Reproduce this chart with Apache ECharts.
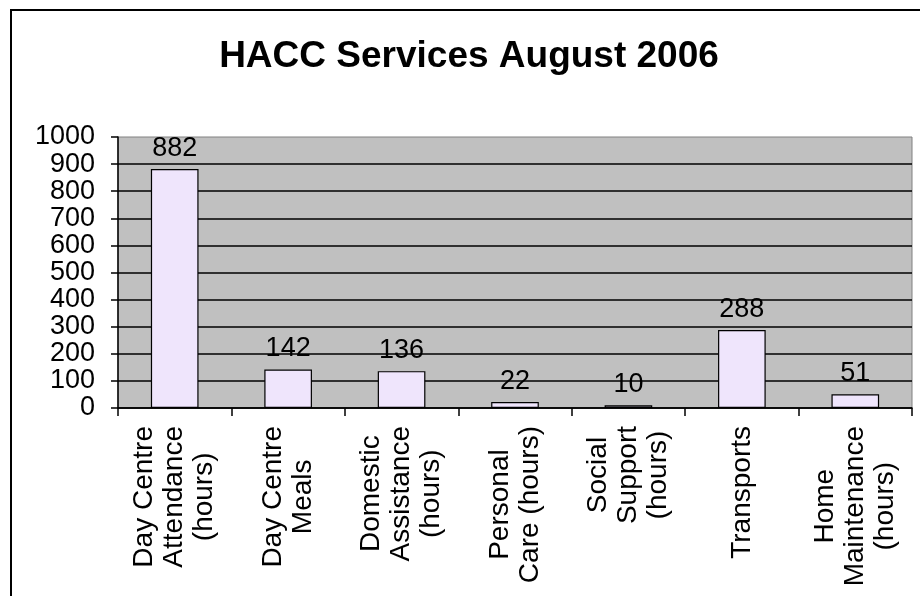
<!DOCTYPE html>
<html>
<head>
<meta charset="utf-8">
<script src="https://cdn.jsdelivr.net/npm/echarts@6/dist/echarts.min.js"></script>
<style>
  html, body { margin: 0; padding: 0; background: #fff; }
  #chart { width: 920px; height: 596px; }
</style>
</head>
<body>
<div id="chart"></div>
<script>
// HACC service totals for August 2006
const categories = [
  'Day Centre\nAttendance\n(hours)',
  'Day Centre\nMeals',
  'Domestic\nAssistance\n(hours)',
  'Personal\nCare (hours)',
  'Social\nSupport\n(hours)',
  'Transports',
  'Home\nMaintenance\n(hours)'
];
const serviceValues = [882, 142, 136, 22, 10, 288, 51];
const yTicks = { min: 0, max: 1000, step: 100 };
const chartTitle = 'HACC Services August 2006';

const FONT = "Arial, 'Liberation Sans', sans-serif";

const chart = echarts.init(document.getElementById('chart'), null, { renderer: 'canvas' });

chart.setOption({
  animation: false,
  backgroundColor: '#ffffff',
  title: {
    text: chartTitle,
    left: 464,
    top: 33,
    textAlign: 'center',
    textStyle: { fontFamily: FONT, fontSize: 37, fontWeight: 'bold', color: '#000' }
  },
  graphic: [{
    type: 'rect',
    shape: { x: 11, y: 10, width: 1000, height: 1000 },
    style: { fill: 'none', stroke: '#000', lineWidth: 2 },
    z: 100
  }],
  grid: {
    left: 118, top: 137, right: 8, bottom: 188,
    show: true,
    backgroundColor: '#C0C0C0',
    borderColor: '#808080',
    borderWidth: 1
  },
  xAxis: {
    type: 'category',
    data: categories,
    axisLine: { lineStyle: { color: '#000', width: 1.5 } },
    axisTick: { show: true, length: 8, lineStyle: { color: '#000', width: 1.5 } },
    axisLabel: {
      rotate: 90,
      margin: 18,
      interval: 0,
      fontFamily: FONT,
      fontSize: 28,
      lineHeight: 30,
      color: '#000',
      formatter: function (v) {
        return v.split('\n').map(function (s) { return '{c|' + s + '}'; }).join('\n');
      },
      rich: {
        c: { align: 'center', fontFamily: FONT, fontSize: 28, lineHeight: 30, color: '#000' }
      }
    }
  },
  yAxis: {
    type: 'value',
    min: yTicks.min,
    max: yTicks.max,
    interval: yTicks.step,
    axisLine: { show: true, lineStyle: { color: '#000', width: 1.5 } },
    axisTick: { show: true, length: 7, lineStyle: { color: '#000', width: 1.5 } },
    axisLabel: {
      margin: 23,
      fontFamily: FONT,
      fontSize: 27,
      color: '#000',
      formatter: function (v) { return String(v); }
    },
    splitLine: { show: true, showMaxLine: false, lineStyle: { color: '#000', width: 1.5 } }
  },
  series: [{
    type: 'bar',
    data: serviceValues,
    barWidth: '42%',
    itemStyle: { color: '#EFE5FC', borderColor: '#000', borderWidth: 1.2 },
    label: {
      show: true,
      position: 'top',
      distance: 7,
      fontFamily: FONT,
      fontSize: 27,
      color: '#000'
    }
  }]
});
</script>
</body>
</html>
